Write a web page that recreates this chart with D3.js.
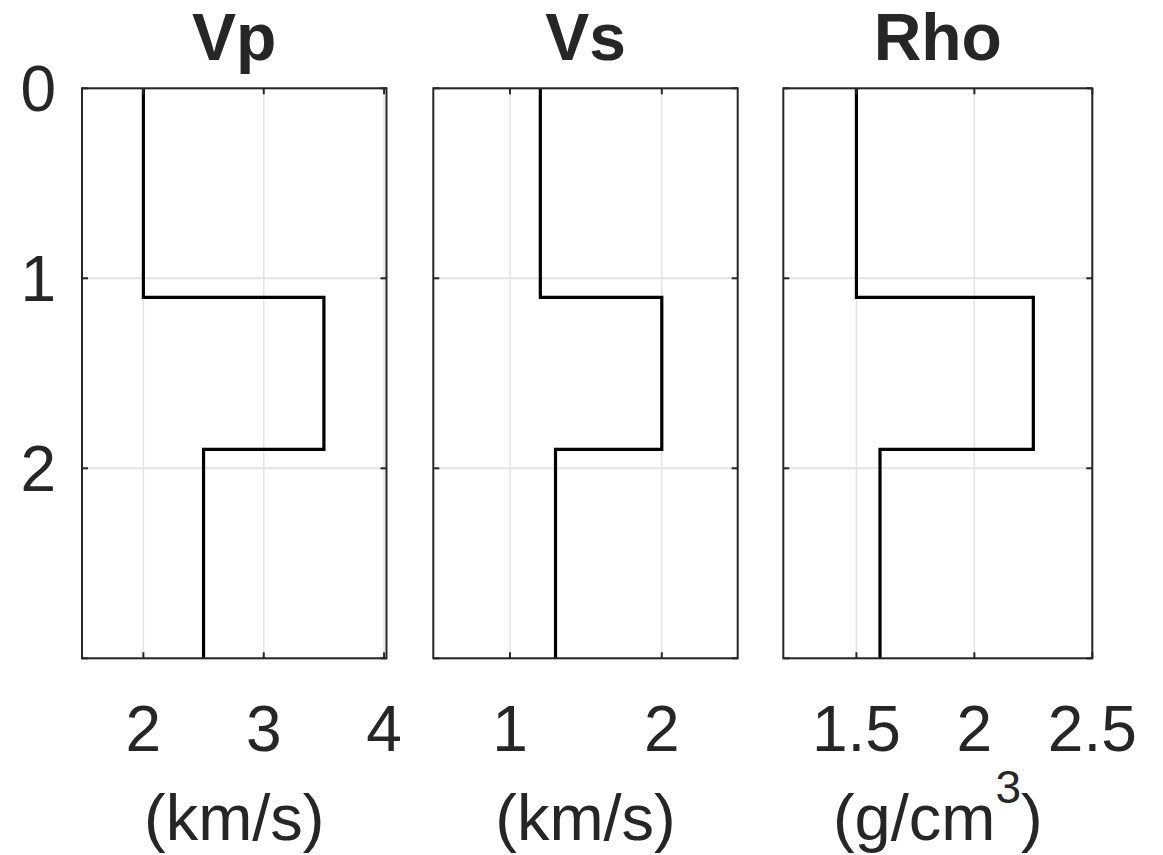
<!DOCTYPE html>
<html>
<head>
<meta charset="utf-8">
<script src="https://cdn.jsdelivr.net/npm/d3@7"></script>
<style>
  html, body { margin: 0; padding: 0; background: #fff; }
  svg { display: block; }
  text { font-family: "Liberation Sans", Arial, Helvetica, sans-serif; fill: #262626; }
</style>
</head>
<body>
<svg id="chart" width="1163" height="855"></svg>
<script>
// Layered earth model: depth of each layer top (km) and bottom of the model
const layerTops = [0, 1.1, 1.9];
const modelBottom = 3;

// Properties per layer
const vpValues  = [2.0, 3.5, 2.5];   // km/s
const vsValues  = [1.2, 2.0, 1.3];   // km/s
const rhoValues = [1.5, 2.25, 1.6];  // g/cm^3

// Axis limits and ticks
const depthLimits = [0, 3];
const depthTicks = [0, 1, 2, 3];
const depthTickLabels = ["0", "1", "2"];
const vpLimits  = [1.49, 4.02];
const vsLimits  = [0.495, 2.5];
const rhoLimits = [1.19, 2.5];
const vpTicks  = [2, 3, 4];
const vsTicks  = [1, 2];
const rhoTicks = [1.5, 2, 2.5];

const panelTitles = ["Vp", "Vs", "Rho"];

const svg = d3.select("#chart");
const ink = "#262626";
const gridColor = "#e3e3e3";

const plotTop = 88.3, plotBottom = 658.3;
const y = d3.scaleLinear().domain(depthLimits).range([plotTop, plotBottom]);

const panels = [
  { title: panelTitles[0], values: vpValues,  lim: vpLimits,  ticks: vpTicks,  left: 82,    right: 386.5, unit: "km/s" },
  { title: panelTitles[1], values: vsValues,  lim: vsLimits,  ticks: vsTicks,  left: 433.3, right: 737.7, unit: "km/s" },
  { title: panelTitles[2], values: rhoValues, lim: rhoLimits, ticks: rhoTicks, left: 783.3, right: 1092.3, unit: "g/cm3" }
];

const tickLen = 6;

panels.forEach((p, i) => {
  const x = d3.scaleLinear().domain(p.lim).range([p.left, p.right]);
  const g = svg.append("g");

  // grid lines
  g.selectAll(".vgrid").data(p.ticks).join("line")
    .attr("x1", d => x(d)).attr("x2", d => x(d))
    .attr("y1", plotTop).attr("y2", plotBottom)
    .attr("stroke", gridColor).attr("stroke-width", 1.5);
  g.selectAll(".hgrid").data(depthTicks).join("line")
    .attr("x1", p.left).attr("x2", p.right)
    .attr("y1", d => y(d)).attr("y2", d => y(d))
    .attr("stroke", gridColor).attr("stroke-width", 2);

  // step profile of the layered model
  const pts = [];
  p.values.forEach((v, k) => {
    const z0 = layerTops[k];
    const z1 = k + 1 < layerTops.length ? layerTops[k + 1] : modelBottom;
    pts.push([v, z0], [v, z1]);
  });
  const line = d3.line().x(d => x(d[0])).y(d => y(d[1]));
  g.append("path").datum(pts)
    .attr("d", line)
    .attr("fill", "none")
    .attr("stroke", "#000")
    .attr("stroke-width", 3.2)
    .attr("stroke-linejoin", "miter");

  // frame
  g.append("rect")
    .attr("x", p.left).attr("y", plotTop)
    .attr("width", p.right - p.left).attr("height", plotBottom - plotTop)
    .attr("fill", "none").attr("stroke", ink).attr("stroke-width", 2);

  // inward tick marks, x
  p.ticks.forEach(t => {
    g.append("line").attr("x1", x(t)).attr("x2", x(t)).attr("y1", plotTop).attr("y2", plotTop + tickLen)
      .attr("stroke", ink).attr("stroke-width", 2);
    g.append("line").attr("x1", x(t)).attr("x2", x(t)).attr("y1", plotBottom).attr("y2", plotBottom - tickLen)
      .attr("stroke", ink).attr("stroke-width", 2);
  });
  // inward tick marks, depth
  depthTicks.forEach(t => {
    g.append("line").attr("x1", p.left).attr("x2", p.left + tickLen).attr("y1", y(t)).attr("y2", y(t))
      .attr("stroke", ink).attr("stroke-width", 2);
    g.append("line").attr("x1", p.right).attr("x2", p.right - tickLen).attr("y1", y(t)).attr("y2", y(t))
      .attr("stroke", ink).attr("stroke-width", 2);
  });

  // x tick labels
  g.selectAll(".xlab").data(p.ticks).join("text")
    .attr("x", d => x(d)).attr("y", 751)
    .attr("text-anchor", "middle")
    .attr("font-size", 64)
    .text(d => String(d));

  // title
  const cx = (p.left + p.right) / 2;
  g.append("text")
    .attr("x", cx).attr("y", 60)
    .attr("text-anchor", "middle")
    .attr("font-size", 66).attr("font-weight", "bold")
    .text(p.title);

  // unit label
  const ul = g.append("text")
    .attr("x", cx).attr("y", 840)
    .attr("text-anchor", "middle")
    .attr("font-size", 65);
  if (p.unit === "g/cm3") {
    ul.append("tspan").text("(g/cm");
    ul.append("tspan").attr("font-size", 46).attr("dy", -37).text("3");
    ul.append("tspan").attr("dy", 37).text(")");
  } else {
    ul.text("(" + p.unit + ")");
  }

  // depth tick labels on the first panel only
  if (i === 0) {
    g.selectAll(".ylab").data(depthTickLabels).join("text")
      .attr("x", 56).attr("y", (d, k) => y(depthTicks[k]) + 23)
      .attr("text-anchor", "end")
      .attr("font-size", 64)
      .text(d => d);
  }
});
</script>
</body>
</html>
